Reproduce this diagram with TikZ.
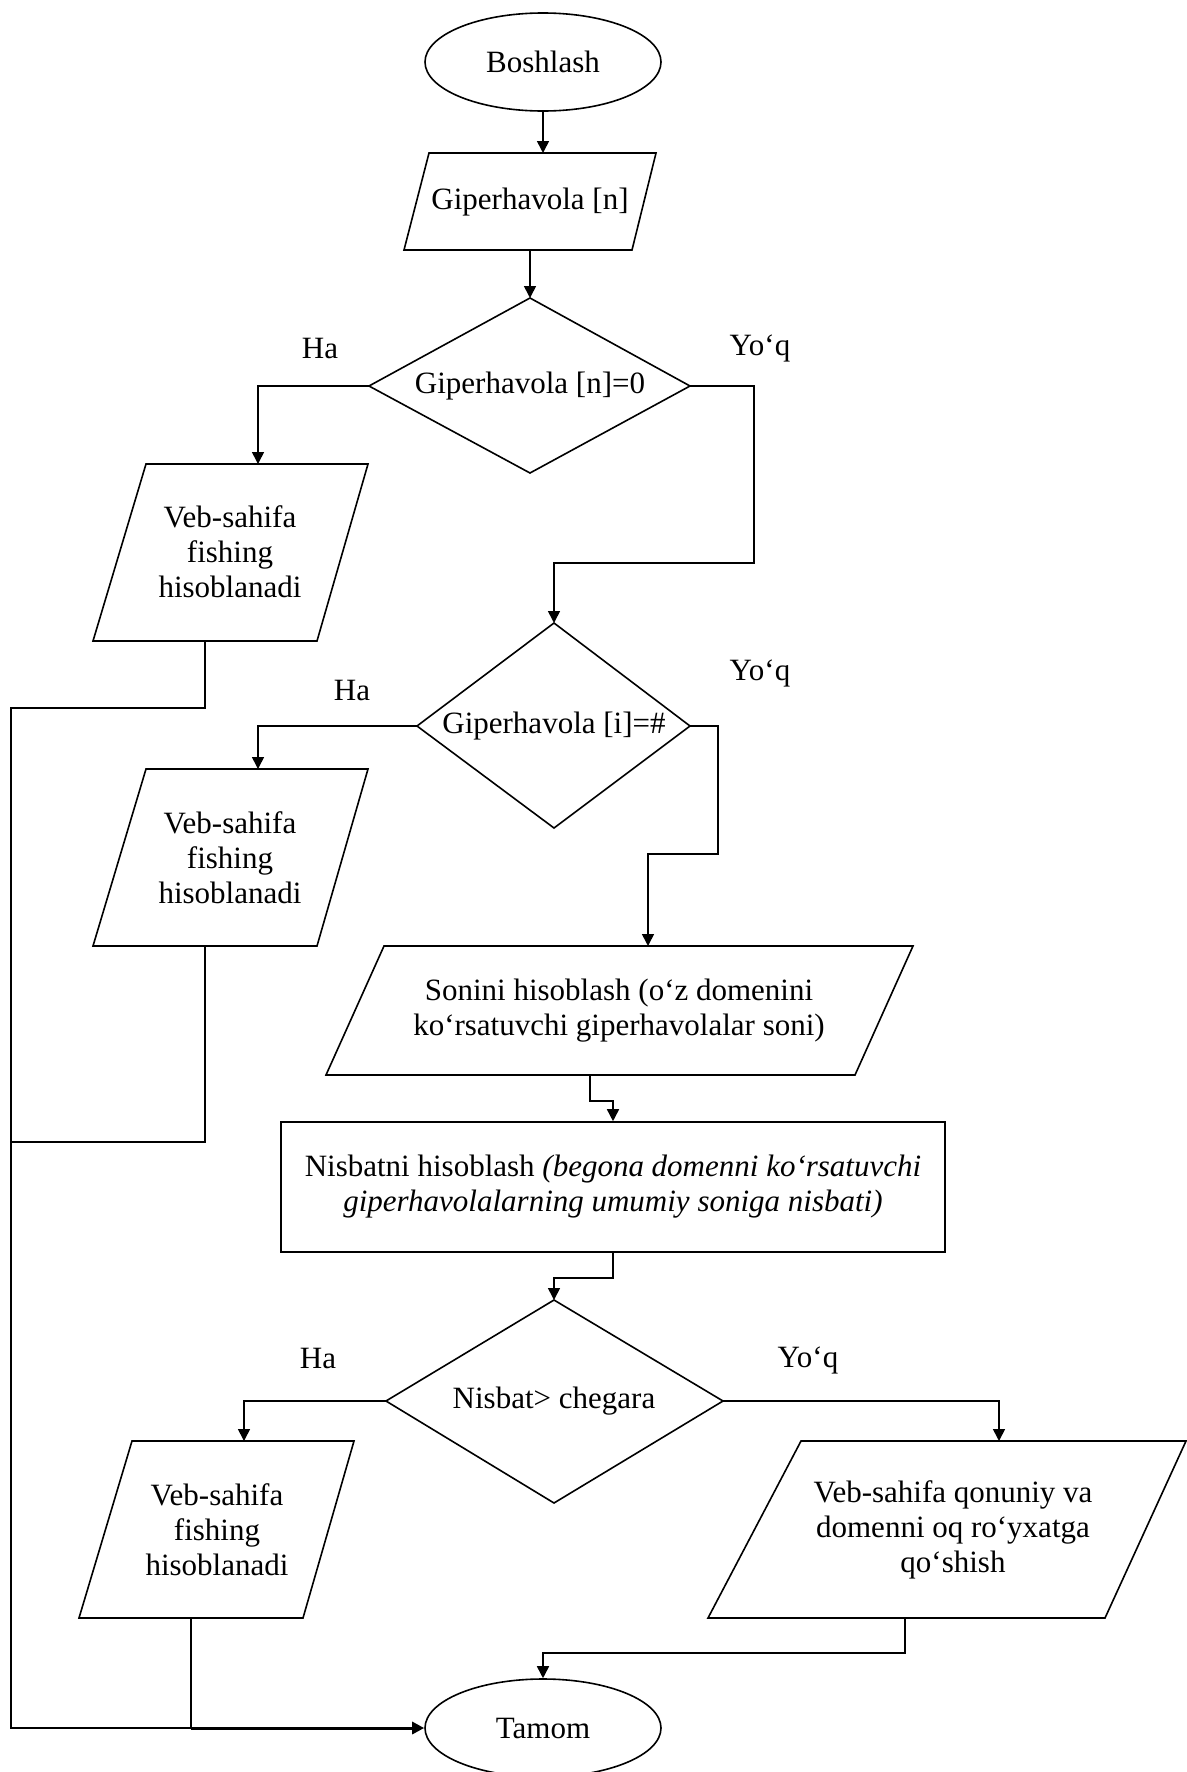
\documentclass[tikz,border=0pt]{standalone}
\usepackage{fontspec}
\setmainfont{Liberation Serif}
\usetikzlibrary{arrows.meta,shapes.geometric}
\begin{document}
\begin{tikzpicture}[x=0.5pt,y=-0.5pt,line width=0.8pt,
  txt/.style={font=\fontsize{15.5}{17.5}\selectfont,align=center,inner sep=0pt},
  term/.style={draw,ellipse,minimum width=118pt,minimum height=49pt,inner sep=0pt,
               font=\fontsize{15.5}{17.5}\selectfont},
  procbox/.style={draw,rectangle,minimum width=332pt,minimum height=65pt,inner sep=0pt,
               font=\fontsize{15.5}{17.5}\selectfont,align=center},
  shapeline/.style={line width=0.8pt,line join=miter},
  flow/.style={-{Triangle[length=6pt,width=6pt]}},
  boldflow/.style={line width=1.5pt,-{Triangle[length=6pt,width=6pt]}}]
\useasboundingbox (0,0) rectangle (1187,1772);

% ---------- terminals ----------
\node[term] (start) at (543,62) {Boshlash};
\node[term] (finish) at (543,1728) {Tamom};

% ---------- input: Giperhavola [n] ----------
\draw[shapeline] (429,153) -- (656,153) -- (632,250) -- (404,250) -- cycle;
\node[txt] (inp) at (530,202) {Giperhavola [n]};
\coordinate (inpT) at (543,153);
\coordinate (inpB) at (530,250);

% ---------- decision 1 ----------
\coordinate (d1T) at (530,298);
\coordinate (d1L) at (369,386);
\coordinate (d1R) at (690,386);
\coordinate (d1B) at (530,473);
\draw[shapeline] (d1T) -- (d1R) -- (d1B) -- (d1L) -- cycle;
\node[txt] (d1) at (530,386) {Giperhavola [n]=0};
\node[txt] (ha1) at (320,348) {Ha};
\node[txt] (yoq1) at (760,348) {Yo‘q};

% ---------- output 1 ----------
\draw[shapeline] (146,464) -- (368,464) -- (317,641) -- (93,641) -- cycle;
\node[txt] (out1) at (230,552) {Veb-sahifa\\fishing\\hisoblanadi};
\coordinate (out1T) at (258,464);
\coordinate (out1B) at (205,641);

% ---------- decision 2 ----------
\coordinate (d2T) at (554,623);
\coordinate (d2L) at (417,726);
\coordinate (d2R) at (690,726);
\coordinate (d2B) at (554,828);
\draw[shapeline] (d2T) -- (d2R) -- (d2B) -- (d2L) -- cycle;
\node[txt] (d2) at (554,726) {Giperhavola [i]=\#};
\node[txt] (ha2) at (352,690) {Ha};
\node[txt] (yoq2) at (760,673) {Yo‘q};

% ---------- output 2 ----------
\draw[shapeline] (146,769) -- (368,769) -- (317,946) -- (93,946) -- cycle;
\node[txt] (out2) at (230,858) {Veb-sahifa\\fishing\\hisoblanadi};
\coordinate (out2T) at (258,769);
\coordinate (out2B) at (205,946);

% ---------- count ----------
\draw[shapeline] (384,946) -- (913,946) -- (855,1075) -- (326,1075) -- cycle;
\node[txt] (cnt) at (619,1011) {Sonini hisoblash (o‘z domenini\\ko‘rsatuvchi giperhavolalar soni)};
\coordinate (cntT) at (648,946);
\coordinate (cntB) at (590,1075);

% ---------- ratio ----------
\node[procbox] (ratio) at (613,1187)
  {Nisbatni hisoblash \textit{(begona domenni ko‘rsatuvchi}\\\textit{giperhavolalarning umumiy soniga nisbati)}};

% ---------- decision 3 ----------
\coordinate (d3T) at (554,1300);
\coordinate (d3L) at (386,1401);
\coordinate (d3R) at (723,1401);
\coordinate (d3B) at (554,1503);
\draw[shapeline] (d3T) -- (d3R) -- (d3B) -- (d3L) -- cycle;
\node[txt] (d3) at (554,1401) {Nisbat> chegara};
\node[txt] (ha3) at (318,1358) {Ha};
\node[txt] (yoq3) at (808,1360) {Yo‘q};

% ---------- output 3 ----------
\draw[shapeline] (132,1441) -- (354,1441) -- (303,1618) -- (79,1618) -- cycle;
\node[txt] (out3) at (217,1530) {Veb-sahifa\\fishing\\hisoblanadi};
\coordinate (out3T) at (244,1441);
\coordinate (out3B) at (191,1618);

% ---------- output 4 ----------
\draw[shapeline] (801,1441) -- (1186,1441) -- (1105,1618) -- (708,1618) -- cycle;
\node[txt] (out4) at (953,1530) {Veb-sahifa qonuniy va\\domenni oq ro‘yxatga\\qo‘shish};
\coordinate (out4T) at (999,1441);
\coordinate (out4B) at (905,1618);

% ---------- connectors ----------
\draw[flow] (start.south) -- (inpT);
\draw[flow] (inpB) -- (d1T);
\draw[flow] (d1L) -| (out1T);
\draw[flow] (d1R) -- (754,386) -- (754,563) -- (554,563) -- (d2T);
\draw[flow] (d2L) -| (out2T);
\draw[flow] (d2R) -- (718,726) -- (718,854) -- (648,854) -- (cntT);
\draw[flow] (cntB) -- (590,1101) -- (613,1101) -- (ratio.north);
\draw[flow] (ratio.south) -- (613,1278) -- (554,1278) -- (d3T);
\draw[flow] (d3L) -| (out3T);
\draw[flow] (d3R) -| (out4T);
\draw[flow] (out4B) -- (905,1653) -- (543,1653) -- (finish.north);

% return lines on the left
\coordinate (rail) at (11,1728);
\coordinate (join) at (191,1728);
\draw (out1B) -- (205,708) -- (11,708) -- (rail) -- (join);
\draw (out2B) -- (205,1142) -- (11,1142);
\draw (out3B) -- (join);
\draw[boldflow] (join) -- (finish.west);
\end{tikzpicture}
\end{document}
